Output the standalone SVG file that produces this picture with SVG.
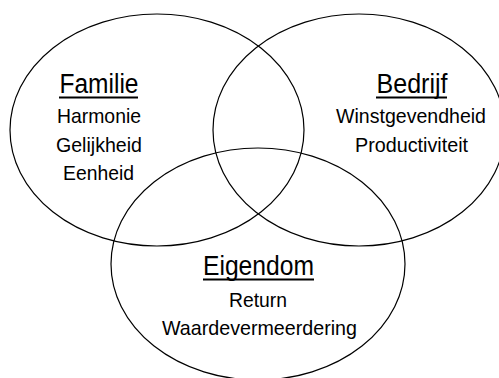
<svg xmlns="http://www.w3.org/2000/svg" width="499" height="378" viewBox="0 0 499 378">
<style>
.c{fill:none;stroke:#000;stroke-width:1.2}
.h{font-family:"Liberation Sans",Arial,sans-serif;font-size:27px;fill:#000;text-anchor:middle}
.t{font-family:"Liberation Sans",Arial,sans-serif;font-size:21px;fill:#000;text-anchor:middle}
.u{stroke:#000;stroke-width:2}
</style>
<rect width="499" height="378" fill="#fff"/>
<g id="familie">
<ellipse class="c" cx="157" cy="130" rx="147" ry="116"/>
<text class="h" x="99" y="93" textLength="79" lengthAdjust="spacingAndGlyphs">Familie</text>
<line class="u" x1="59" y1="97.5" x2="138" y2="97.5"/>
<text class="t" x="99" y="123" textLength="84" lengthAdjust="spacingAndGlyphs">Harmonie</text>
<text class="t" x="99" y="152" textLength="86" lengthAdjust="spacingAndGlyphs">Gelijkheid</text>
<text class="t" x="98.5" y="180" textLength="71" lengthAdjust="spacingAndGlyphs">Eenheid</text>
</g>
<g id="bedrijf">
<ellipse class="c" cx="359" cy="130" rx="146" ry="116"/>
<text class="h" x="412" y="93" textLength="71" lengthAdjust="spacingAndGlyphs">Bedrijf</text>
<line class="u" x1="376" y1="97.5" x2="447" y2="97.5"/>
<text class="t" x="411" y="123" textLength="150" lengthAdjust="spacingAndGlyphs">Winstgevendheid</text>
<text class="t" x="411.5" y="152" textLength="113" lengthAdjust="spacingAndGlyphs">Productiviteit</text>
</g>
<g id="eigendom">
<ellipse class="c" cx="258" cy="264" rx="147" ry="116"/>
<text class="h" x="258.5" y="275" textLength="111" lengthAdjust="spacingAndGlyphs">Eigendom</text>
<line class="u" x1="203" y1="279.5" x2="314" y2="279.5"/>
<text class="t" x="258" y="307" textLength="58" lengthAdjust="spacingAndGlyphs">Return</text>
<text class="t" x="259.5" y="335" textLength="195" lengthAdjust="spacingAndGlyphs">Waardevermeerdering</text>
</g>
</svg>
